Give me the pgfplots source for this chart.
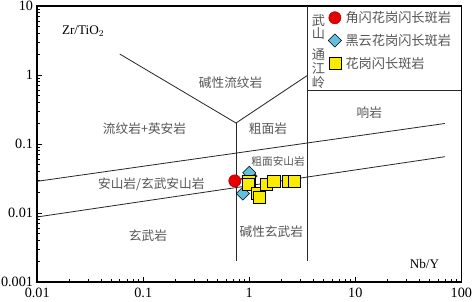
\documentclass[border=0pt]{standalone}
\usepackage{fontspec}
\setmainfont{Liberation Serif}
\newfontfamily\cjk{Noto Sans CJK SC}
\usepackage{pgfplots}
\pgfplotsset{compat=1.18}
\definecolor{redc}{RGB}{232,0,0}
\definecolor{bluec}{RGB}{96,192,222}
\definecolor{yelc}{RGB}{250,236,0}
\definecolor{lblc}{RGB}{85,85,85}
\definecolor{linec}{RGB}{40,40,40}
\begin{document}
\begin{tikzpicture}
\begin{axis}[
  xmode=log, ymode=log,
  scale only axis, width=418pt, height=272pt,
  xmin=0.01, xmax=100, ymin=0.001, ymax=10,
  axis line style={line width=1.5pt},
  tick align=inside, xtick pos=bottom, ytick pos=left,
  major tick length=5pt, minor tick length=3pt,
  tick style={line width=0.5pt, black},
  xtick={0.01,0.1,1,10,100}, xticklabels={0.01,0.1,1,10,100},
  ytick={0.001,0.01,0.1,1,10}, yticklabels={0.001,0.01,0.1,1,10},
  minor xtick={0.02,0.03,0.04,0.05,0.06,0.07,0.08,0.09,0.2,0.3,0.4,0.5,0.6,0.7,0.8,0.9,2,3,4,5,6,7,8,9,20,30,40,50,60,70,80,90},
  minor ytick={0.002,0.003,0.004,0.005,0.006,0.007,0.008,0.009,0.02,0.03,0.04,0.05,0.06,0.07,0.08,0.09,0.2,0.3,0.4,0.5,0.6,0.7,0.8,0.9,2,3,4,5,6,7,8,9},
  tick label style={font=\fontsize{14}{14}\selectfont},
  xticklabel style={inner sep=1pt, text depth=3pt, yshift=-5pt},
  yticklabel style={inner sep=1pt, xshift=-3pt},
  legend style={draw=none, fill=none, at={(rel axis cs:0.681,0.995)}, anchor=north west,
    font=\cjk\fontsize{13}{13}\selectfont, text=lblc, row sep=6pt, inner sep=2pt,
    /tikz/every odd column/.append style={column sep=2pt}},
  legend cell align=left,
  clip=false,
]
% boundaries
\addplot[no marks, linec, line width=0.8pt, forget plot] coordinates {(0.01,0.0286) (70,0.197)};
\addplot[no marks, linec, line width=0.8pt, forget plot] coordinates {(0.01,0.0087) (70,0.065)};
\addplot[no marks, linec, line width=0.8pt, forget plot] coordinates {(0.06,2) (0.75,0.2) (3.5,0.97)};
\addplot[no marks, linec, line width=0.8pt, forget plot] coordinates {(0.75,0.2) (0.75,0.002)};
\addplot[no marks, linec, line width=0.8pt, forget plot] coordinates {(3.5,0.002) (3.5,10)};
\addplot[no marks, linec, line width=0.8pt, forget plot] coordinates {(3.5,0.6) (100,0.6)};
% data
\addplot[only marks, mark=*, mark size=6pt, mark options={fill=redc, draw=redc!70!black, line width=0.5pt}]
  coordinates {(0.73,0.029)};
\addlegendentry{角闪花岗闪长斑岩}
\addplot[only marks, mark=square*, mark size=4.6pt, mark options={rotate=45, fill=bluec, draw=black, line width=0.5pt}]
  coordinates {(0.87,0.019) (0.97,0.031) (1.03,0.034) (1.0,0.038)};
\addlegendentry{黑云花岗闪长斑岩}
\addplot[only marks, mark=square*, mark size=6pt, mark options={fill=yelc, draw=black, line width=0.5pt}]
  coordinates {(0.99,0.029) (0.985,0.026) (1.2,0.019) (1.25,0.017) (1.45,0.026) (1.7,0.029) (2.33,0.0286) (2.65,0.029)};
\addlegendentry{花岗闪长斑岩}
% labels
\node[font=\cjk\fontsize{13}{13.5}\selectfont, text=lblc, align=center] at (rel axis cs:0.663,0.923) {武\\山};
\node[font=\cjk\fontsize{13}{13.5}\selectfont, text=lblc, align=center] at (rel axis cs:0.663,0.772) {通\\江\\岭};
\node[anchor=west, font=\fontsize{13}{13}\selectfont] at (rel axis cs:0.05,0.909) {Zr/TiO$_2$};
\node[font=\fontsize{13}{13}\selectfont] at (rel axis cs:0.913,0.064) {Nb/Y};
\begin{scope}[every node/.style={font=\cjk\fontsize{12.5}{12.5}\selectfont, text=lblc}]
\node at (rel axis cs:0.456,0.720) {碱性流纹岩};
\node at (rel axis cs:0.253,0.554) {流纹岩+英安岩};
\node at (rel axis cs:0.544,0.554) {粗面岩};
\node at (rel axis cs:0.783,0.611) {响岩};
\node[font=\cjk\fontsize{10.5}{10.5}\selectfont] at (rel axis cs:0.568,0.4375) {粗面安山岩};
\node at (rel axis cs:0.269,0.354) {安山岩/玄武安山岩};
\node at (rel axis cs:0.261,0.168) {玄武岩};
\node at (rel axis cs:0.552,0.180) {碱性玄武岩};
\end{scope}
\end{axis}
\end{tikzpicture}
\end{document}
